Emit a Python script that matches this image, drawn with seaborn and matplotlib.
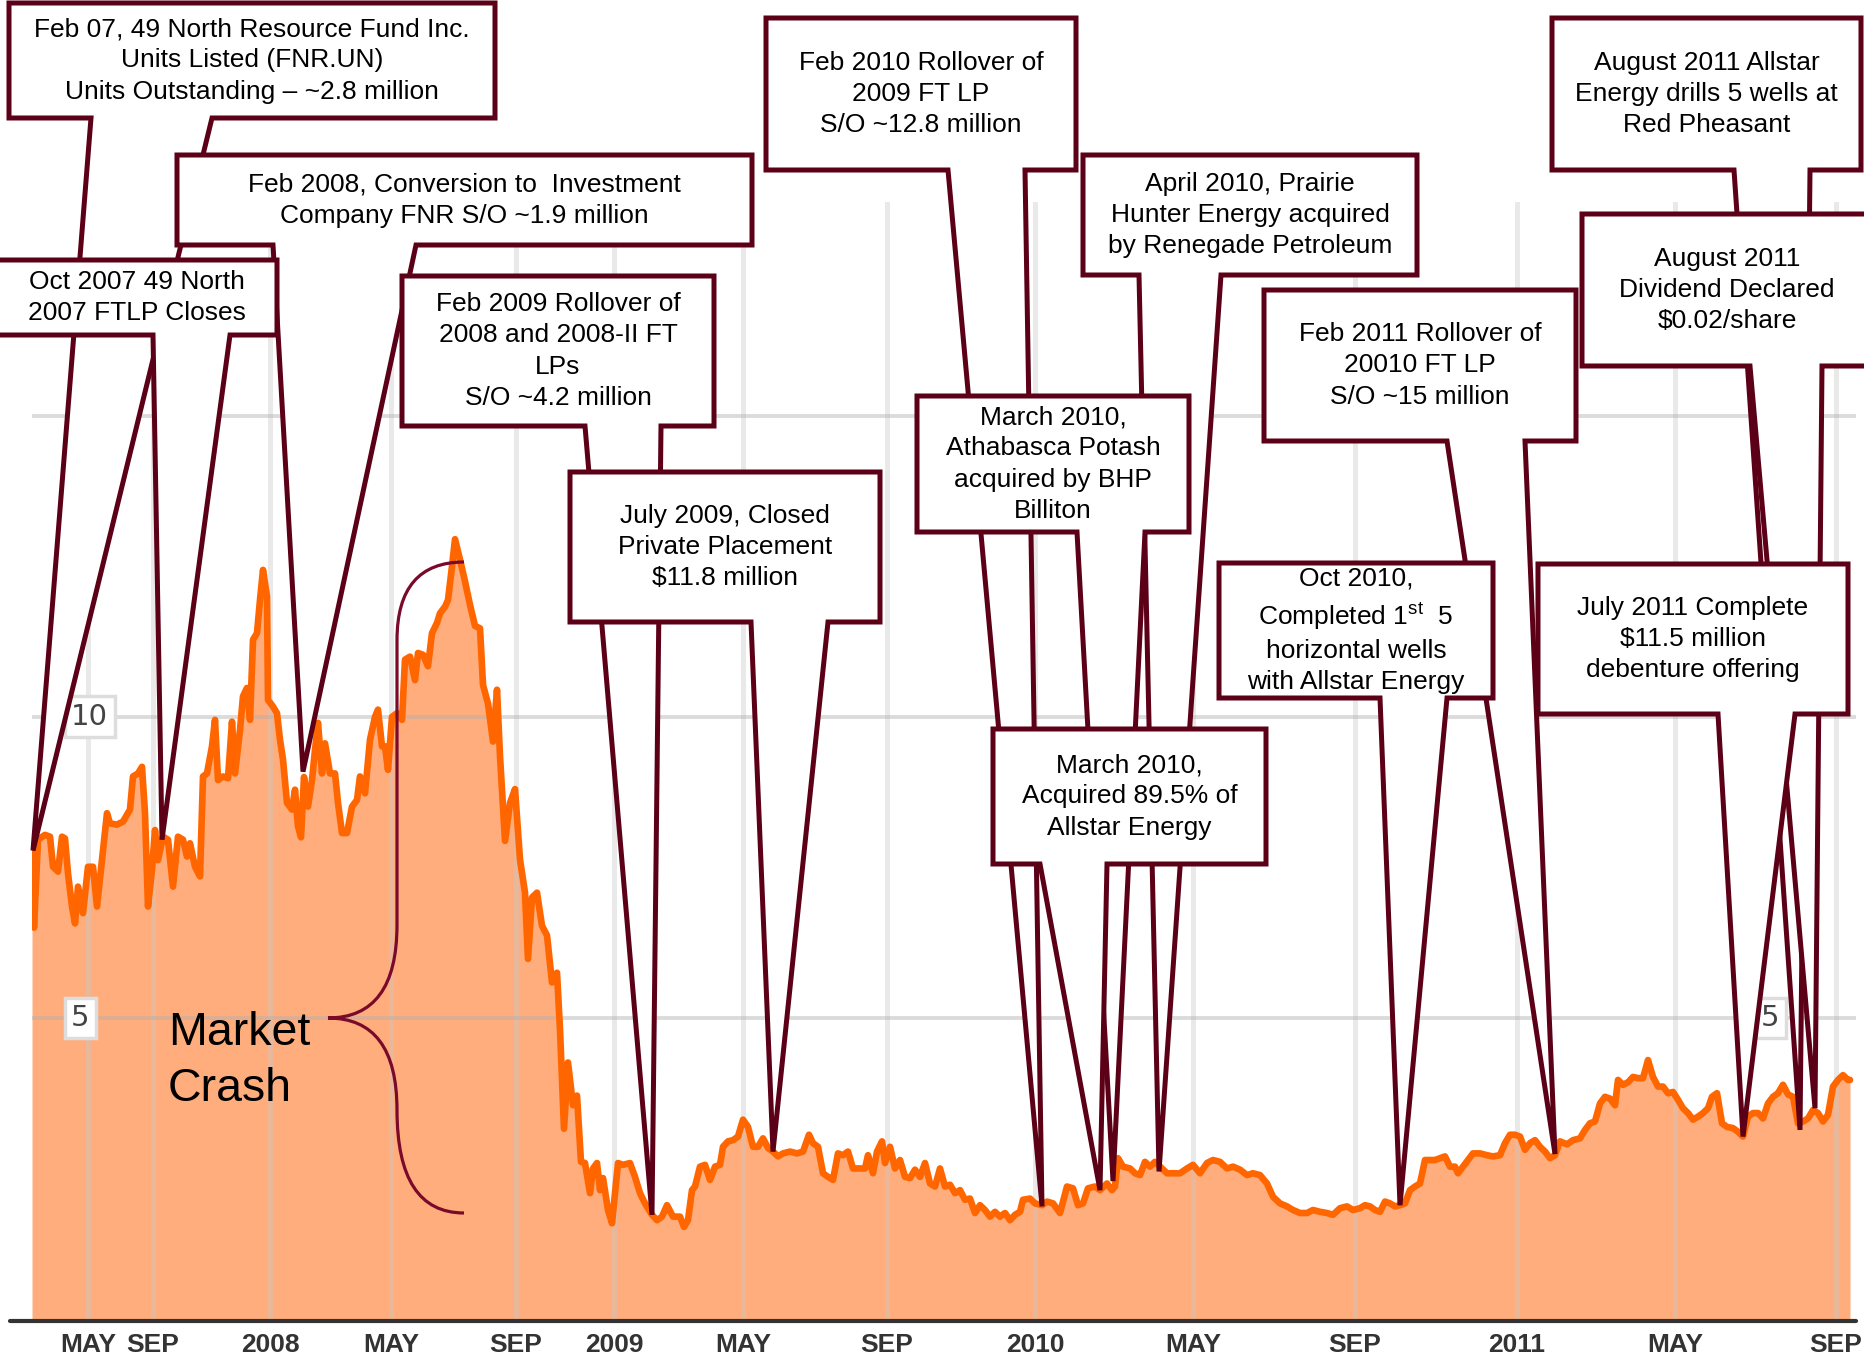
import matplotlib
matplotlib.use('Agg')
import matplotlib.pyplot as plt
import seaborn as sns
from matplotlib.path import Path
from matplotlib.patches import PathPatch, Polygon
from matplotlib.lines import Line2D
from matplotlib.transforms import Affine2D, blended_transform_factory

sns.set_style('white')
plt.rcParams['font.family'] = ['Liberation Sans', 'DejaVu Sans']
plt.rcParams['mathtext.fontset'] = 'custom'
plt.rcParams['mathtext.rm'] = 'Liberation Sans'

# %%
# share price (x = trading period on the chart's compressed time scale)
period = [
    0.0, 0.2, 0.6, 1.3, 1.8, 2.1, 2.6, 3.0, 3.3, 3.6,
    4.0, 4.3, 4.6, 5.1, 5.6, 6.1, 6.5, 7.0, 7.5, 7.8,
    8.5, 9.1, 9.8, 10.1, 10.6, 11.0, 11.3, 11.6, 12.0, 12.3,
    12.6, 13.1, 13.6, 14.1, 14.6, 15.1, 15.5, 15.8, 16.3, 16.8,
    17.1, 17.5, 18.0, 18.3, 18.6, 19.1, 19.6, 20.0, 20.3, 20.8,
    21.1, 21.5, 21.8, 22.1, 22.5, 22.8, 23.1, 23.5, 23.6, 24.1,
    24.5, 24.8, 25.1, 25.5, 26.0, 26.3, 26.6, 26.9, 27.2, 27.6,
    28.0, 28.3, 28.6, 29.0, 29.3, 29.8, 30.3, 30.6, 31.0, 31.5,
    32.0, 32.5, 32.8, 33.3, 33.8, 34.3, 34.6, 35.0, 35.3, 35.6,
    36.0, 36.5, 37.0, 37.3, 37.8, 38.3, 38.6, 39.1, 39.6, 40.0,
    40.5, 40.8, 41.3, 41.6, 42.0, 42.3, 42.8, 43.3, 43.8, 44.3,
    44.8, 45.1, 45.6, 46.1, 46.5, 46.8, 47.3, 47.8, 48.3, 48.8,
    49.3, 49.6, 50.0, 50.5, 51.0, 51.5, 52.0, 52.5, 52.8, 53.2,
    53.6, 54.1, 54.5, 54.9, 55.3, 55.8, 56.1, 56.5, 56.8, 57.1,
    57.6, 58.0, 58.3, 58.6, 59.1, 59.8, 60.3, 60.8, 61.3, 62.0,
    62.5, 63.0, 63.5, 64.1, 64.8, 65.2, 65.6, 66.0, 66.3, 66.8,
    67.3, 67.8, 68.3, 68.8, 69.1, 69.6, 70.1, 70.6, 71.1, 71.6,
    72.1, 72.6, 73.1, 73.6, 74.1, 74.6, 75.1, 75.8, 76.5, 77.1,
    77.7, 78.1, 78.6, 79.1, 79.6, 80.1, 80.6, 81.1, 81.6, 82.1,
    82.8, 83.3, 83.6, 84.1, 84.5, 85.0, 85.3, 85.8, 86.3, 86.8,
    87.3, 87.8, 88.3, 88.8, 89.3, 89.8, 90.3, 90.8, 91.3, 91.8,
    92.3, 92.8, 93.3, 93.8, 94.3, 94.8, 95.3, 95.8, 96.3, 96.8,
    97.3, 97.8, 98.3, 98.8, 99.1, 99.8, 100.3, 101.0, 101.5, 102.1,
    102.8, 103.5, 104.1, 104.6, 105.1, 105.6, 106.3, 106.8, 107.5, 108.0,
    108.3, 108.6, 109.1, 109.8, 110.3, 110.8, 111.3, 111.8, 112.3, 112.8,
    113.5, 114.1, 114.8, 115.5, 116.1, 116.8, 117.5, 118.1, 118.8, 119.5,
    120.1, 120.8, 121.5, 122.1, 122.8, 123.5, 124.1, 124.8, 125.5, 126.1,
    126.8, 127.5, 128.1, 128.8, 129.5, 130.1, 130.8, 131.5, 132.1, 132.8,
    133.3, 133.8, 134.3, 134.8, 135.3, 135.8, 136.3, 136.8, 137.3, 137.8,
    138.3, 138.8, 139.3, 139.8, 140.3, 140.8, 141.3, 141.8, 142.3, 142.6,
    143.1, 143.6, 144.1, 144.8, 145.5, 146.1, 146.8, 147.3, 147.8, 148.3,
    148.8, 149.3, 149.8, 150.3, 150.8, 151.3, 151.8, 152.3, 152.8, 153.5,
    154.1, 154.8, 155.3, 155.8, 156.3, 156.8, 157.3, 157.8, 158.3, 158.6,
    159.1, 159.6, 160.1, 160.6, 161.1, 161.6, 162.1, 162.6, 163.1, 163.6,
    164.1, 164.6, 165.1, 165.6, 166.1, 166.6, 167.1, 167.6, 168.0, 168.5,
    169.0, 169.5, 170.1, 170.6, 171.1, 171.6, 172.1, 172.6, 173.1, 173.6,
    174.1, 174.6, 175.1, 175.6, 176.1, 176.6, 177.1, 177.6, 178.1, 178.6,
    179.1, 179.6, 180.1, 180.6, 181.1, 181.6, 181.8,
]
price = [
    7.90, 6.50, 7.96, 8.04, 8.01, 7.51, 7.43, 8.01, 7.98, 7.40,
    6.85, 6.57, 7.18, 6.74, 7.51, 7.51, 6.85, 7.62, 8.40, 8.23,
    8.21, 8.26, 8.46, 9.01, 9.06, 9.17, 8.40, 6.85, 7.46, 8.12,
    7.62, 8.01, 7.96, 7.18, 8.01, 7.96, 7.68, 7.90, 7.51, 7.35,
    9.01, 9.06, 9.51, 9.95, 8.95, 9.01, 8.98, 9.92, 9.06, 9.78,
    10.34, 10.48, 9.95, 11.28, 11.39, 11.94, 12.44, 12.00, 10.28, 10.17,
    10.06, 9.62, 9.29, 8.57, 8.46, 8.79, 8.18, 8.00, 9.00, 8.51,
    8.95, 9.45, 9.90, 9.06, 9.56, 9.06, 9.06, 8.57, 8.07, 8.07,
    8.51, 8.62, 9.01, 8.73, 9.62, 10.00, 10.12, 9.51, 9.51, 9.12,
    10.00, 10.06, 9.95, 10.95, 11.00, 10.61, 11.06, 11.03, 10.84, 11.39,
    11.56, 11.72, 11.83, 11.94, 12.50, 12.95, 12.61, 12.25, 11.86, 11.51,
    11.47, 10.53, 10.22, 9.59, 10.45, 9.35, 7.94, 8.57, 8.80, 7.63,
    7.08, 5.98, 7.00, 7.08, 6.53, 6.37, 5.59, 5.75, 4.81, 3.16,
    4.26, 3.55, 3.71, 2.61, 2.59, 2.09, 2.50, 2.59, 2.14, 2.34,
    1.81, 1.59, 2.09, 2.59, 2.56, 2.59, 2.36, 2.09, 1.92, 1.73,
    1.64, 1.70, 1.89, 1.70, 1.70, 1.53, 1.64, 2.14, 2.20, 2.53,
    2.56, 2.31, 2.53, 2.56, 2.86, 2.95, 2.97, 3.03, 3.31, 3.19,
    2.86, 2.86, 3.00, 2.84, 2.78, 2.70, 2.75, 2.78, 2.75, 2.78,
    3.06, 2.92, 2.86, 2.42, 2.36, 2.31, 2.75, 2.72, 2.78, 2.50,
    2.50, 2.50, 2.72, 2.42, 2.78, 2.95, 2.59, 2.86, 2.50, 2.64,
    2.36, 2.34, 2.48, 2.36, 2.59, 2.25, 2.20, 2.50, 2.20, 2.23,
    2.09, 2.14, 1.98, 2.00, 1.76, 1.89, 1.81, 1.70, 1.78, 1.70,
    1.76, 1.64, 1.73, 1.78, 1.98, 2.00, 1.92, 1.89, 1.95, 1.92,
    1.76, 2.20, 2.17, 1.89, 1.92, 2.17, 2.20, 2.14, 2.25, 2.14,
    2.20, 2.67, 2.53, 2.50, 2.42, 2.39, 2.61, 2.53, 2.61, 2.53,
    2.42, 2.42, 2.42, 2.50, 2.56, 2.42, 2.59, 2.64, 2.61, 2.50,
    2.53, 2.48, 2.39, 2.42, 2.39, 2.25, 2.03, 1.92, 1.87, 1.81,
    1.76, 1.76, 1.81, 1.78, 1.76, 1.73, 1.84, 1.87, 1.81, 1.84,
    1.89, 1.87, 1.81, 1.78, 1.95, 1.92, 1.87, 1.89, 1.92, 2.14,
    2.20, 2.25, 2.64, 2.64, 2.64, 2.67, 2.70, 2.53, 2.53, 2.42,
    2.53, 2.64, 2.75, 2.75, 2.72, 2.70, 2.72, 2.92, 3.06, 3.06,
    3.03, 2.81, 2.92, 2.97, 2.86, 2.78, 2.67, 2.72, 2.95, 2.90,
    2.97, 3.00, 3.14, 3.25, 3.28, 3.58, 3.69, 3.66, 3.55, 3.97,
    3.89, 3.93, 4.02, 4.00, 4.00, 4.30, 4.02, 3.86, 3.86, 3.75,
    3.77, 3.64, 3.50, 3.42, 3.31, 3.36, 3.42, 3.50, 3.69, 3.75,
    3.25, 3.19, 3.17, 3.11, 3.03, 3.36, 3.42, 3.42, 3.33, 3.58,
    3.69, 3.75, 3.89, 3.73, 3.69, 3.25, 3.28, 3.33, 3.47, 3.42,
    3.28, 3.39, 3.86, 3.97, 4.05, 3.97, 3.97,
]

tick_periods = [5.6, 12.1, 23.8, 35.9, 48.4, 58.2, 71.1, 85.5, 100.3, 116.1, 132.3, 148.5, 164.3, 180.4]
tick_labels = ['MAY', 'SEP', '2008', 'MAY', 'SEP', '2009', 'MAY', 'SEP',
               '2010', 'MAY', 'SEP', '2011', 'MAY', 'SEP']
price_grid = [5, 10, 15]
price_labels_left = [5, 10]
price_labels_right = [5]

# events, in drawing order (later ones sit on top)
event_text = [
    'Feb 07, 49 North Resource Fund Inc.\nUnits Listed (FNR.UN)\nUnits Outstanding \u2013 ~2.8 million',
    'Feb 2008, Conversion to  Investment\nCompany FNR S/O ~1.9 million',
    'Oct 2007 49 North\n2007 FTLP Closes',
    'Feb 2009 Rollover of\n2008 and 2008-II FT\nLPs\nS/O ~4.2 million',
    'July 2009, Closed\nPrivate Placement\n$11.8 million',
    'Feb 2010 Rollover of\n2009 FT LP\nS/O ~12.8 million',
    'April 2010, Prairie\nHunter Energy acquired\nby Renegade Petroleum',
    'March 2010,\nAthabasca Potash\nacquired by BHP\nBilliton',
    'March 2010,\nAcquired 89.5% of\nAllstar Energy',
    'Feb 2011 Rollover of\n20010 FT LP\nS/O ~15 million',
    'Oct 2010,\nCompleted 1$^{\\rm st}$  5\nhorizontal wells\nwith Allstar Energy',
    'August 2011 Allstar\nEnergy drills 5 wells at\nRed Pheasant',
    'August 2011\nDividend Declared\n$0.02/share',
    'July 2011 Complete\n$11.5 million\ndebenture offering',
]
event_period = [0.1, 27.1, 13.0, 62.0, 74.1, 101.0, 112.7, 108.1, 106.8, 152.3, 136.8, 176.8, 178.3, 171.1]
event_price = [7.78, 9.09, 7.96, 1.73, 2.78, 1.87, 2.45, 2.29, 2.14, 2.74, 1.89, 3.14, 3.50, 3.03]

# box layout in image pixels: left, top, right, bottom, wedge start, wedge end
box_layout = [
    (9, 3, 495, 118, 91, 212),
    (177, 155, 752, 245, 273, 416),
    (-4, 260, 277, 335, 153, 230),
    (402, 276, 714, 426, 585, 661),
    (570, 472, 880, 622, 751, 828),
    (766, 18, 1076, 170, 948, 1025),
    (1083, 155, 1417, 275, 1139, 1221),
    (917, 396, 1189, 532, 1077, 1145),
    (993, 729, 1266, 864, 1040, 1107),
    (1264, 290, 1576, 441, 1447, 1525),
    (1219, 563, 1493, 698, 1380, 1447),
    (1552, 18, 1861, 170, 1734, 1810),
    (1582, 214, 1872, 366, 1750, 1822),
    (1538, 564, 1848, 714, 1718, 1795),
]

# %%
W, H = 1865, 1369
maroon = '#5c0018'
fig = plt.figure(figsize=(W / 100, H / 100), dpi=100)
ax = fig.add_axes([32 / W, 1 - 1319 / H, 1824 / W, (1319 - 202) / H])
px = Affine2D().scale(1 / W, -1 / H).translate(0, 1) + fig.transFigure

ax.fill_between(period, price, 0, color='#ffad7d', lw=0, zorder=1)
sns.lineplot(x=period, y=price, ax=ax, color='#ff6600', lw=4.8, zorder=3)
ax.set_xlim(0, 182.4)
ax.set_ylim(0, 18.55)

for p in tick_periods:
    ax.axvline(p, color='#c8c8c8', alpha=0.4, lw=3.6, zorder=2)
for v in price_grid:
    ax.axhline(v, color='#b0b0b0', alpha=0.45, lw=2.8, zorder=2)

ax.set_yticks([])
ax.set_xticks(tick_periods, tick_labels)
ax.tick_params(axis='x', length=0, pad=10, labelsize=19, labelcolor='#333333')
for lbl in ax.get_xticklabels():
    lbl.set_fontweight('bold')
for s in ax.spines.values():
    s.set_visible(False)
ax.set_xlabel('')
ax.set_ylabel('')

ylab = blended_transform_factory(ax.transAxes, ax.transData)
box_style = dict(boxstyle='square,pad=0.22', fc='white', ec='#dddddd', lw=2.5)
for v in price_labels_left:
    ax.text(0.0215, v, str(v), transform=ylab, ha='left', va='center', fontsize=21,
            color='#444444', family='DejaVu Sans', bbox=box_style, zorder=4)
for v in price_labels_right:
    ax.text(0.953, v, str(v), transform=ylab, ha='center', va='center', fontsize=21,
            color='#444444', family='DejaVu Sans', bbox=box_style, zorder=4)

fig.add_artist(Line2D([10 / W, 1856 / W], [1 - 1321 / H] * 2, color='#333333', lw=3))

# market crash brace
brace = Path([(464, 562), (397, 562), (397, 640), (397, 925), (397, 1018), (328, 1018),
              (397, 1018), (397, 1110), (397, 1213), (464, 1213)],
             [Path.MOVETO, Path.CURVE3, Path.CURVE3, Path.LINETO, Path.CURVE3, Path.CURVE3,
              Path.CURVE3, Path.CURVE3, Path.CURVE3, Path.CURVE3])
fig.add_artist(PathPatch(brace, transform=px, fc='none', ec='#7a0a2a', lw=2.3, zorder=5))
fig.text(168, 1101, 'Market\nCrash', transform=px, ha='left', va='baseline',
         fontsize=33.5, linespacing=1.36, color='black', zorder=5)

# callout boxes
fig.canvas.draw()
for i, (txt, ep, ev, lay) in enumerate(zip(event_text, event_period, event_price, box_layout)):
    L, T, R, B, w1, w2 = lay
    dx, dy = ax.transData.transform((ep, ev))
    tx, ty = dx, H - dy
    verts = [(L, T), (R, T), (R, B), (w2, B), (tx, ty), (w1, B), (L, B)]
    fig.add_artist(Polygon(verts, closed=True, transform=px, fc='white', ec=maroon,
                           lw=3.6, joinstyle='miter', zorder=10 + i))
    fig.text((L + R) / 2, (T + B) / 2, txt, transform=px, ha='center', va='center',
             fontsize=19, linespacing=1.38, color='black', zorder=10 + i + 0.5)

fig.savefig('out.png', dpi=100)
